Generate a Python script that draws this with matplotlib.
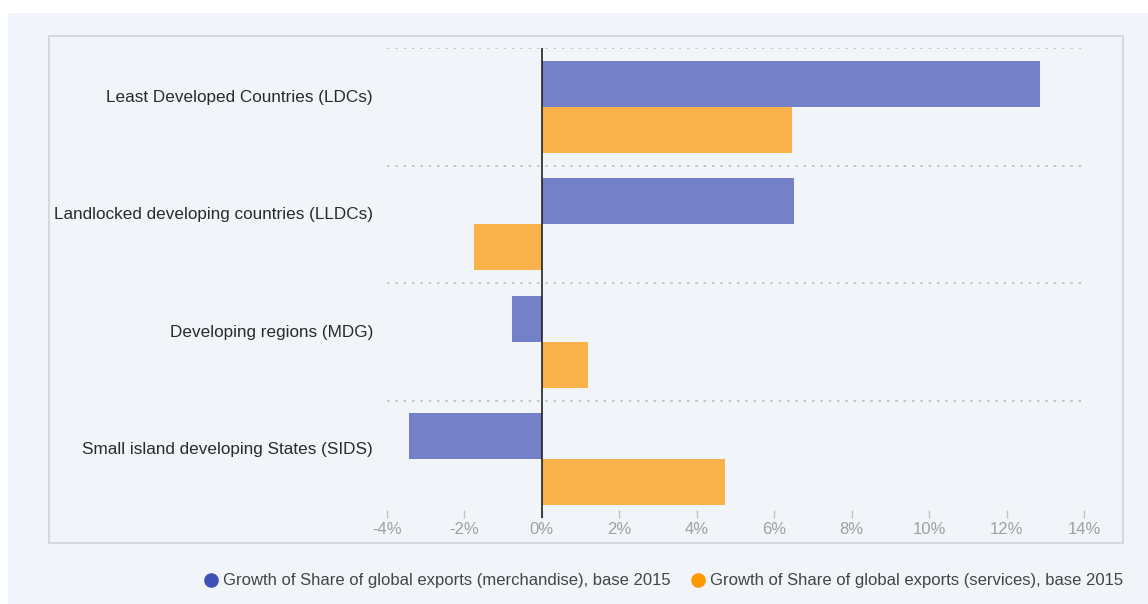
import matplotlib
matplotlib.use("Agg")
import matplotlib.pyplot as plt
from matplotlib.patches import Rectangle
from matplotlib.lines import Line2D
import numpy as np

plt.rcParams['font.family'] = ['Liberation Sans', 'DejaVu Sans']

categories = ["Least Developed Countries (LDCs)",
              "Landlocked developing countries (LLDCs)",
              "Developing regions (MDG)",
              "Small island developing States (SIDS)"]
merch = [12.87, 6.51, -0.77, -3.43]
services = [6.46, -1.76, 1.18, 4.73]
series_names = ["Growth of Share of global exports (merchandise), base 2015",
                "Growth of Share of global exports (services), base 2015"]
xticks = [-4, -2, 0, 2, 4, 6, 8, 10, 12, 14]
xticklabels = ["-4%", "-2%", "0%", "2%", "4%", "6%", "8%", "10%", "12%", "14%"]

W, H = 1148, 604
fig = plt.figure(figsize=(W/100, H/100), dpi=100)
fig.patch.set_facecolor('white')
bg = '#f1f4f9'
fig.patches.append(Rectangle((8/W, 0), 1 - 8/W, 1 - 13/H, transform=fig.transFigure,
                             facecolor=bg, edgecolor='none', zorder=-10))
fig.patches.append(Rectangle((49/W, 1 - 543/H), (1123-49)/W, (543-36)/H, transform=fig.transFigure,
                             facecolor='none', edgecolor='#d3d7dc', linewidth=1.3, zorder=-5))

ax = fig.add_axes([387/W, 1 - 518/H, (1084-387)/W, (518-48)/H])
ax.set_facecolor('none')
blue = '#3f51b5'
orange = '#ff9800'
y = np.arange(len(categories))
bh = 0.39
ax.barh(y - bh/2, merch, height=bh, color=blue, alpha=0.7, linewidth=0)
ax.barh(y + bh/2, services, height=bh, color=orange, alpha=0.7, linewidth=0)
ax.set_ylim(len(categories) - 0.5, -0.5)
ax.set_xlim(-4, 14)
for b in np.arange(-0.5, len(categories) - 0.5, 1.0):
    ax.axhline(b, color='#bcbcbc', linewidth=1.2, linestyle=(0, (1.5, 3.5)), zorder=0)
ax.axvline(0, color='#222222', linewidth=1.2, zorder=3)
for s in ax.spines.values():
    s.set_visible(False)
ax.set_xticks(xticks)
ax.set_xticklabels(xticklabels)
ax.tick_params(axis='x', direction='in', length=6, width=1, color='#c4c4c4',
               labelcolor='#a0a0a0', labelsize=12, pad=3)
ax.set_yticks(y - 0.094)
ax.set_yticklabels(categories)
ax.tick_params(axis='y', length=0, labelsize=12.3, labelcolor='#2a2a2a', pad=10)

handles = [Line2D([], [], marker='o', linestyle='none', markersize=9.5, color=blue),
           Line2D([], [], marker='o', linestyle='none', markersize=9.5, color=orange)]
fig.legend(handles, series_names, loc='center', bbox_to_anchor=(662/W, 1 - 581/H),
           ncol=2, frameon=False, fontsize=12.0, labelcolor='#444444',
           handletextpad=0.15, columnspacing=1.0, handlelength=1.2)

fig.savefig('out.png', dpi=100, facecolor=fig.get_facecolor())
